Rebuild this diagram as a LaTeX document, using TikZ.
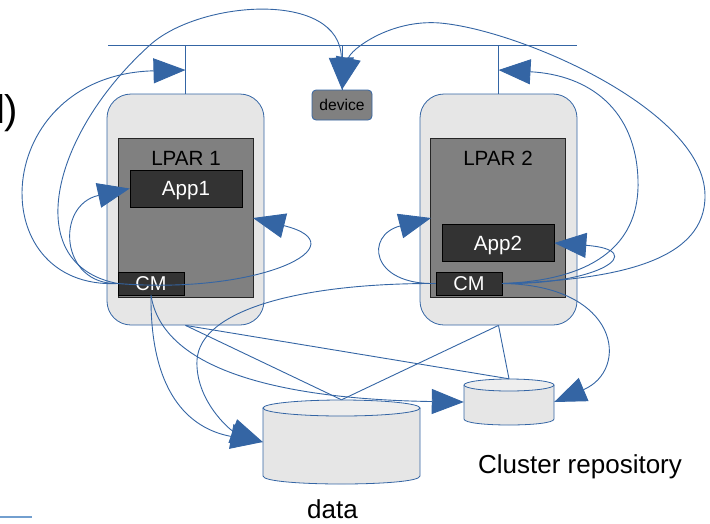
\documentclass[tikz,border=0pt]{standalone}
\usepackage{fontspec}
\setmainfont{Liberation Sans}
\usetikzlibrary{arrows.meta}
\definecolor{lblue}{HTML}{3465A4}
\definecolor{boxgray}{HTML}{E6E6E6}
\definecolor{midgray}{HTML}{808080}
\definecolor{darkbox}{HTML}{333333}
\definecolor{topgray}{HTML}{EEEEEE}
\definecolor{paleblue}{HTML}{729FCF}
\begin{document}
\begin{tikzpicture}[x=1pt,y=-1pt,
  lpar/.style={draw=lblue, line width=0.8pt, fill=boxgray, rounded corners=24pt, minimum width=157pt, minimum height=231pt, inner sep=0pt},
  innerbox/.style={draw=black!85, line width=0.6pt, fill=midgray, minimum width=135pt, minimum height=159pt, inner sep=0pt},
  appbox/.style={draw=black, line width=0.6pt, fill=darkbox, text=white, font=\fontsize{20.6}{24}\selectfont, minimum width=112pt, minimum height=37pt, inner sep=0pt, text depth=0pt},
  cmbox/.style={draw=black, line width=0.6pt, fill=darkbox, text=white, font=\fontsize{20}{24}\selectfont, minimum width=66pt, minimum height=23pt, inner sep=0pt, text depth=0pt},
  devbox/.style={draw=lblue, line width=0.8pt, fill=midgray, rounded corners=4pt, font=\fontsize{15.6}{18}\selectfont, minimum width=60pt, minimum height=30pt, inner sep=0pt, text depth=0pt},
  lbl/.style={font=\fontsize{20.6}{24}\selectfont, anchor=base, inner sep=0pt},
  biglbl/.style={font=\fontsize{26}{30}\selectfont, anchor=base west, inner sep=0pt},
  conn/.style={draw=lblue, line width=0.9pt},
  arr/.style={conn, -{Triangle[length=32pt,width=25pt]}},
  cylline/.style={draw=lblue, line width=0.8pt}
]
\useasboundingbox (0,0) rectangle (710,523);

% title fragment
\node (frag) [font=\fontsize{40}{44}\selectfont, anchor=base east, inner sep=0pt] at (18.5,123) {l)};
\draw[paleblue, line width=1.5pt] (0,517) -- (32,517);

% bus
\coordinate (busL) at (108,45);
\coordinate (busR) at (577,45);

% LPARs
\node (LP1) [lpar] at (185.5,209.5) {};
\node (IN1) [innerbox] at (185.5,217.5) {};
\node (LP1t) [lbl] at (186,165) {LPAR 1};
\node (App1) [appbox] at (186,188.5) {App1};
\node (CM1) [cmbox] at (151,283.5) {CM};

\node (LP2) [lpar] at (498.5,209.5) {};
\node (IN2) [innerbox] at (498,217.5) {};
\node (LP2t) [lbl] at (498,165) {LPAR 2};
\node (App2) [appbox] at (498,243) {App2};
\node (CM2) [cmbox] at (469,283.5) {CM};

\node (device) [devbox] at (342,105) {device};

% data cylinder
\fill[boxgray] (263,408) -- (263,476) .. controls (263,486.67) and (420,486.67) .. (420,476) -- (420,408) -- cycle;
\draw[cylline] (263,408) -- (263,476) .. controls (263,486.67) and (420,486.67) .. (420,476) -- (420,408);
\draw[cylline, fill=topgray] (341.5,408) ellipse [x radius=78.5pt, y radius=8pt];
\node (data) [minimum width=157pt, minimum height=84pt, inner sep=0pt] at (341.5,442) {};
\node (datat) [biglbl] at (307,518) {data};

% cluster repository cylinder
\fill[boxgray] (464,385) -- (464,419) .. controls (464,427) and (554,427) .. (554,419) -- (554,385) -- cycle;
\draw[cylline] (464,385) -- (464,419) .. controls (464,427) and (554,427) .. (554,419) -- (554,385);
\draw[cylline, fill=topgray] (509,385) ellipse [x radius=45pt, y radius=6pt];
\node (repo) [minimum width=90pt, minimum height=46pt, inner sep=0pt] at (509,402) {};
\node (repot) [biglbl] at (478,473) {Cluster repository};

% arrow targets
\coordinate (bus1arr) at (185.5,70);
\coordinate (bus2arr) at (498.5,70);
\coordinate (in1r) at (253,218);
\coordinate (in2l) at (431,218);

% bus lines
\draw[conn] (busL) -- (busR);
\draw[conn] (LP1.north) -- (LP1.north |- busL);
\draw[conn] (LP2.north) -- (LP2.north |- busL);
\draw[conn] (device.north |- busL) -- (device.north);

% LPAR 1 connectors
\draw[arr] (CM1.west) .. controls (-20,290) and (-10,75) .. (bus1arr);
\draw[arr] (CM1.west) .. controls (20,265) and (50,135) .. (150,45) .. controls (200,0) and (340,-10) .. (device.north);
\draw[arr] (CM1.west) .. controls (60,285) and (55,205) .. (App1.west);
\draw[arr] (CM1.west) .. controls (260,295) and (362,245) .. (in1r);
\draw[arr] (CM1.south) .. controls (150,400) and (195,430) .. (data.west);
\draw[arr] (CM1.south) .. controls (165,385) and (330,400) .. (repo.west);

% straight links
\draw[conn] (LP1.south) -- (data.north);
\draw[conn] (LP1.south) -- (repo.north);
\draw[conn] (LP2.south) -- (data.north);
\draw[conn] (LP2.south) -- (repo.north);

% LPAR 2 connectors
\draw[arr] (CM2.west) .. controls (300,283) and (200,310) .. (197,360) .. controls (195,400) and (230,430) .. (data.west);
\draw[arr] (CM2.east) .. controls (620,285) and (630,370) .. (repo.east);
\draw[arr] (CM2.east) .. controls (600,285) and (650,250) .. (App2.east);
\draw[arr] (CM2.west) .. controls (370,285) and (365,235) .. (in2l);
\draw[arr] (CM2.east) .. controls (600,280) and (640,240) .. (638,180) .. controls (636,110) and (590,75) .. (bus2arr);
\draw[arr] (CM2.east) .. controls (620,280) and (706,260) .. (705,195) .. controls (704,110) and (520,30) .. (440,23) .. controls (390,19) and (350,50) .. (device.north);
\end{tikzpicture}
\end{document}
